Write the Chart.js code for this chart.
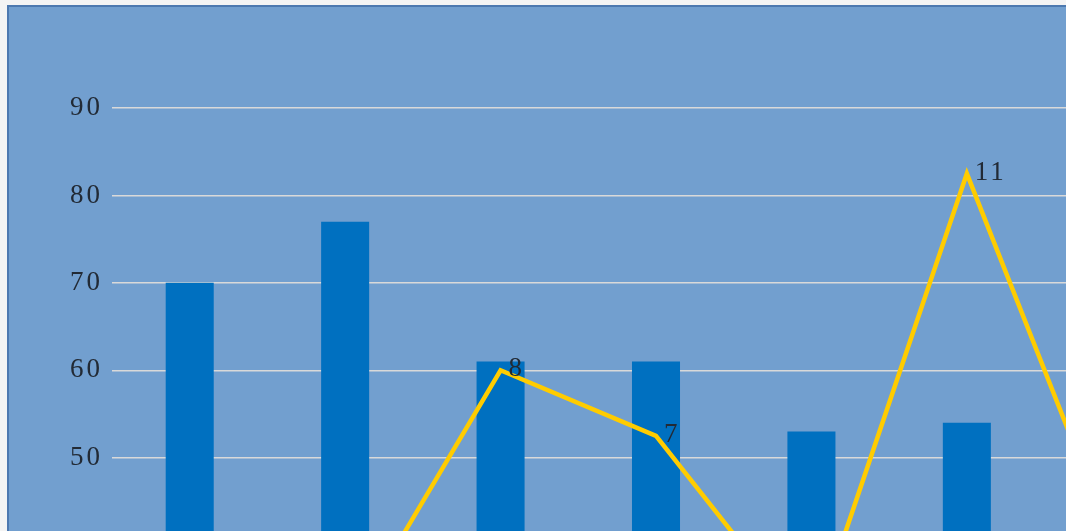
<!DOCTYPE html>
<html>
<head>
<meta charset="utf-8">
<script src="https://cdn.jsdelivr.net/npm/chart.js@4"></script>
<style>
  html, body { margin: 0; padding: 0; background: #f4f4f4; overflow: hidden; width: 1066px; height: 531px; }
  #box { position: absolute; left: 7px; top: 5px; border-top: 2px solid #4d79b0; border-left: 2px solid #4d79b0; background: #729fcf; }
  canvas { display: block; }
</style>
</head>
<body>
<div id="box"><canvas id="grafico" width="1200" height="913"></canvas></div>
<script>
var categorias = ['1', '2', '3', '4', '5', '6', '7'];
var valoresBarra = [70, 77, 61, 61, 53, 54, 60];
var valoresLinha = [3, 4, 8, 7, 4, 11, 5];
var ticksY = [0, 10, 20, 30, 40, 50, 60, 70, 80, 90];

// espaçamento entre letras, como no original
var espacamento = {
    id: 'espacamento',
    beforeDraw: function (chart) { chart.ctx.letterSpacing = '3px'; }
};

// rótulos da linha, à direita de cada ponto
var rotulos = {
    id: 'rotulos',
    afterDatasetsDraw: function (chart) {
        var ctx = chart.ctx;
        var meta = chart.getDatasetMeta(1);
        ctx.save();
        ctx.font = '27px "Liberation Serif"';
        ctx.fillStyle = '#222a35';
        ctx.textAlign = 'left';
        ctx.textBaseline = 'middle';
        meta.data.forEach(function (p, i) {
            ctx.fillText(String(valoresLinha[i]), p.x + 8, p.y - 1);
        });
        ctx.restore();
    }
};

var ctx = document.getElementById('grafico').getContext('2d');
var myChart = new Chart(ctx, {
    type: 'bar',
    data: {
        labels: categorias,
        datasets: [
            {
                type: 'bar',
                data: valoresBarra,
                backgroundColor: '#0070c0',
                categoryPercentage: 1,
                barPercentage: 0.309,
                yAxisID: 'y',
                order: 1
            },
            {
                type: 'line',
                data: valoresLinha,
                borderColor: '#ffcc00',
                borderWidth: 4.5,
                tension: 0,
                pointRadius: 0,
                yAxisID: 'y2',
                order: 0
            }
        ]
    },
    options: {
        responsive: false,
        animation: false,
        layout: { padding: { top: 101, bottom: 20, right: 9, left: 0 } },
        plugins: { legend: { display: false }, tooltip: { enabled: false } },
        scales: {
            x: { display: false },
            y: {
                min: 0,
                max: 90,
                afterFit: function (s) { s.width = 103; },
                afterBuildTicks: function (s) { s.ticks = ticksY.map(function (v) { return { value: v }; }); },
                border: { display: false },
                grid: { color: '#d9d9d9', lineWidth: 1.5, drawTicks: false },
                ticks: {
                    padding: 9,
                    color: '#222a35',
                    font: { family: '"Liberation Serif"', size: 27 }
                }
            },
            y2: { display: false, position: 'right', min: 0, max: 12 }
        }
    },
    plugins: [espacamento, rotulos]
});
</script>
</body>
</html>
